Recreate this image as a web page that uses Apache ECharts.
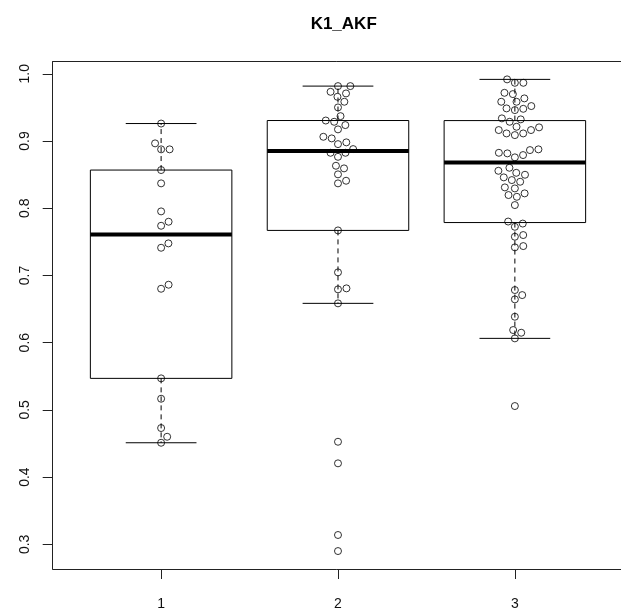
<!DOCTYPE html>
<html><head><meta charset="utf-8">
<script src="https://cdn.jsdelivr.net/npm/echarts@6/dist/echarts.min.js"></script>
<style>html,body{margin:0;padding:0;background:#fff}#c{width:621px;height:612px}</style>
</head><body><div id="c"></div>
<script>
const chartTitle = 'K1_AKF';
const categories = [1, 2, 3];
const yTicks = [0.3, 0.4, 0.5, 0.6, 0.7, 0.8, 0.9, 1.0];
const group1 = [0.926, 0.8965, 0.8876, 0.8876, 0.8568, 0.837, 0.7953, 0.7799, 0.7739, 0.7477, 0.7412,
  0.6862, 0.6802, 0.5469, 0.5166, 0.473, 0.46, 0.4511];
const group2 = [0.9817, 0.9817, 0.9732, 0.9708, 0.9658, 0.9584, 0.95, 0.937, 0.9305, 0.9286, 0.9237,
  0.9173, 0.9063, 0.9039, 0.898, 0.8954, 0.888, 0.8825, 0.8825, 0.8765, 0.8632, 0.8593, 0.8504,
  0.8409, 0.837, 0.767, 0.7046, 0.6808, 0.6793, 0.6585, 0.4526, 0.4205, 0.3139, 0.29];
const group3 = [0.9917, 0.9866, 0.9866, 0.9717, 0.9698, 0.9634, 0.9584, 0.9584, 0.952, 0.9485, 0.9479,
  0.946, 0.9337, 0.9322, 0.9286, 0.9212, 0.9203, 0.9163, 0.9163, 0.9113, 0.9113, 0.9088, 0.8876,
  0.8865, 0.8825, 0.8816, 0.8791, 0.8757, 0.8602, 0.8557, 0.8527, 0.8498, 0.8459, 0.8419, 0.8394,
  0.831, 0.8295, 0.8221, 0.8196, 0.817, 0.8047, 0.7802, 0.7772, 0.7724, 0.7601, 0.7576, 0.7437,
  0.7418, 0.6783, 0.6708, 0.6644, 0.6386, 0.6188, 0.6148, 0.6064, 0.5057];
const groups = [group1, group2, group3];

// R-style fivenum + whiskers (1.5 IQR)
function fivenum(arr) {
  const x = arr.slice().sort((a, b) => a - b);
  const n = x.length;
  const n4 = Math.floor((n + 3) / 2) / 2;
  const d = [1, n4, (n + 1) / 2, n + 1 - n4, n];
  return d.map(k => 0.5 * (x[Math.floor(k) - 1] + x[Math.ceil(k) - 1]));
}
function boxStats(arr) {
  const f = fivenum(arr);
  const iqr = f[3] - f[1];
  const lo = f[1] - 1.5 * iqr, hi = f[3] + 1.5 * iqr;
  const inside = arr.filter(v => v >= lo && v <= hi);
  return [Math.min(...inside), f[1], f[2], f[3], Math.max(...inside)];
}
const stats = groups.map((g, i) => [categories[i]].concat(boxStats(g)));

const FONT = 'Liberation Sans, Arial, sans-serif';
const BOXW = 0.8;
const XMIN = 0.387, XMAX = 3.6;
const chart = echarts.init(document.getElementById('c'), null, {renderer: 'canvas'});

const baseOption = {
  animation: false,
  backgroundColor: '#fff',
  title: {
    text: chartTitle, left: 338.7, top: 11, textAlign: 'center',
    textStyle: {fontFamily: FONT, fontSize: 17, fontWeight: 'bold', color: '#000'}
  },
  grid: {left: 52.7, top: 61.7, right: 0, height: 507.3, show: false},
  xAxis: [{
    type: 'value', min: XMIN, max: XMAX, position: 'bottom',
    axisLine: {show: true, onZero: false, lineStyle: {color: '#222', width: 1}}, splitLine: {show: false},
    axisTick: {show: true, length: 10, lineStyle: {color: '#222'}, customValues: categories},
    axisLabel: {fontFamily: FONT, fontSize: 14, color: '#111', margin: 28,
      customValues: categories, formatter: v => String(Math.round(v))}
  }, {
    type: 'value', min: XMIN, max: XMAX, position: 'top',
    axisLine: {show: true, onZero: false, lineStyle: {color: '#222', width: 1}}, splitLine: {show: false},
    axisTick: {show: false}, axisLabel: {show: false}
  }],
  yAxis: {
    type: 'value', min: 0.2633, max: 1.018,
    axisLine: {show: true, onZero: false, lineStyle: {color: '#222', width: 1}}, splitLine: {show: false},
    axisTick: {show: true, length: 10, lineStyle: {color: '#222'}, customValues: yTicks},
    axisLabel: {fontFamily: FONT, fontSize: 14, color: '#111', margin: 21, rotate: 90,
      customValues: yTicks, formatter: v => v.toFixed(1)}
  },
  series: [{
    type: 'custom',
    data: stats,
    z: 2,
    renderItem: function (params, api) {
      const x = api.value(0);
      const lw = api.value(1), q1 = api.value(2), med = api.value(3), q3 = api.value(4), hw = api.value(5);
      const pL = api.coord([x - BOXW / 2, q3]);
      const pR = api.coord([x + BOXW / 2, q1]);
      const cL = api.coord([x - BOXW / 4, hw])[0], cR = api.coord([x + BOXW / 4, hw])[0];
      const cx = api.coord([x, med])[0];
      const yMed = api.coord([x, med])[1];
      const yHw = api.coord([x, hw])[1], yLw = api.coord([x, lw])[1];
      const stroke = {stroke: '#000', lineWidth: 1, fill: null};
      return {
        type: 'group',
        children: [
          {type: 'line', shape: {x1: cx, y1: pL[1], x2: cx, y2: yHw}, style: Object.assign({}, stroke, {lineDash: [5, 4]})},
          {type: 'line', shape: {x1: cx, y1: pR[1], x2: cx, y2: yLw}, style: Object.assign({}, stroke, {lineDash: [5, 4]})},
          {type: 'line', shape: {x1: cL, y1: yHw, x2: cR, y2: yHw}, style: stroke},
          {type: 'line', shape: {x1: cL, y1: yLw, x2: cR, y2: yLw}, style: stroke},
          {type: 'rect', shape: {x: pL[0], y: pL[1], width: pR[0] - pL[0], height: pR[1] - pL[1]}, style: stroke},
          {type: 'line', shape: {x1: pL[0], y1: yMed, x2: pR[0], y2: yMed}, style: {stroke: '#000', lineWidth: 4}}
        ]
      };
    }
  }]
};
chart.setOption(baseOption);

// beeswarm ("swarm" method, ascending priority) computed in pixel space
function swarmOffsets(values, pxPerY, spacing) {
  const idx = values.map((v, i) => i).sort((a, b) => values[a] - values[b]);
  const py = [], px = [];
  const off = new Array(values.length);
  for (const i of idx) {
    const y = values[i] * pxPerY / spacing;
    const near = [];
    for (let j = 0; j < py.length; j++) if (Math.abs(y - py[j]) < 1) near.push(j);
    const plus = near.map(j => px[j] + Math.sqrt(1 - (y - py[j]) ** 2));
    const minus = near.map(j => px[j] - Math.sqrt(1 - (y - py[j]) ** 2));
    const cands = [0].concat(plus, minus);
    let best = Infinity, val = 0;
    for (const c of cands) {
      const bad = near.some(j => ((y - py[j]) ** 2 + (c - px[j]) ** 2) < 0.999);
      if (!bad && Math.abs(c) < best) { best = Math.abs(c); val = c; }
    }
    py.push(y); px.push(val);
    off[i] = val * spacing;
  }
  return off;
}
const pxPerX = chart.convertToPixel({xAxisIndex: 0}, 2) - chart.convertToPixel({xAxisIndex: 0}, 1);
const pxPerY = Math.abs(chart.convertToPixel({yAxisIndex: 0}, 1) - chart.convertToPixel({yAxisIndex: 0}, 0));
const SPACING = 8.5;
const points = [];
groups.forEach((g, gi) => {
  const off = swarmOffsets(g, pxPerY, SPACING);
  g.forEach((v, i) => points.push([categories[gi] + off[i] / pxPerX, v]));
});
chart.setOption({
  series: [baseOption.series[0], {
    type: 'scatter', data: points, symbol: 'circle', symbolSize: 7, z: 3,
    itemStyle: {color: 'rgba(0,0,0,0)', borderColor: '#000', borderWidth: 1},
    emphasis: {disabled: true}, silent: true
  }]
});
</script></body></html>
